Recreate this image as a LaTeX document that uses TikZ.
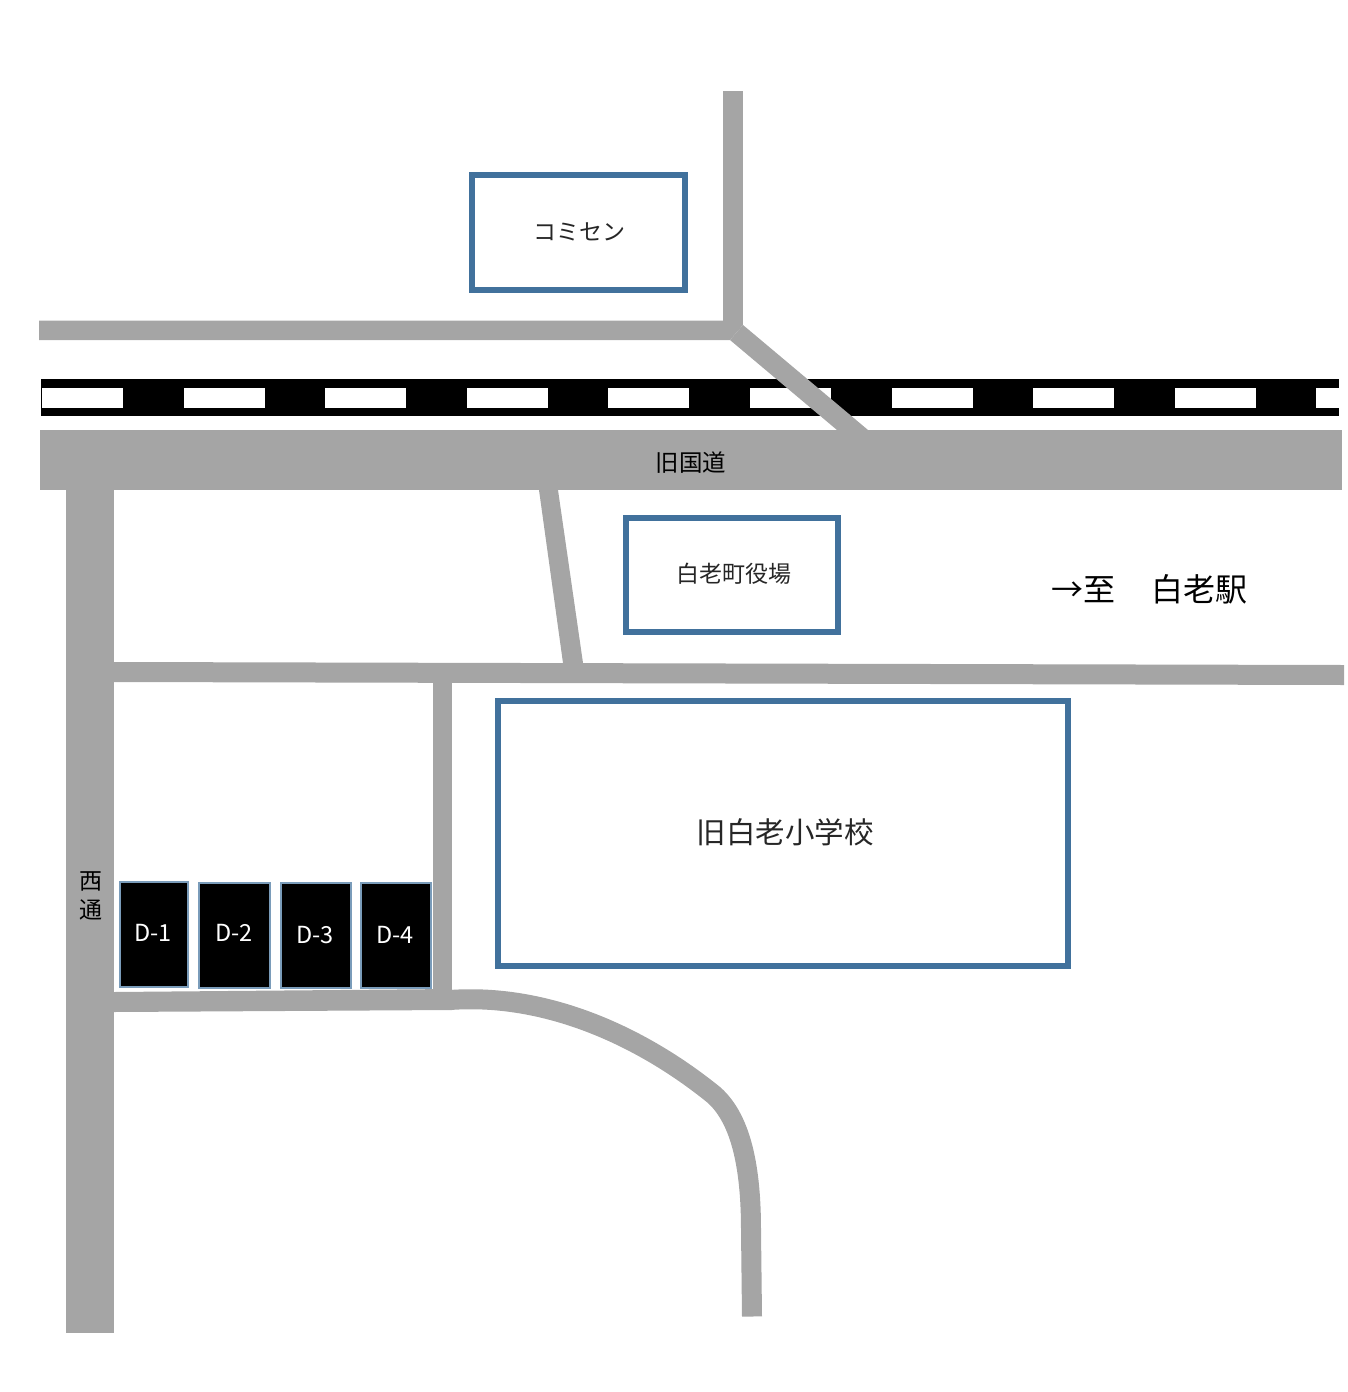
\documentclass[tikz,border=0pt]{standalone}
\usepackage{fontspec}
\setmainfont{Noto Sans CJK JP}
\definecolor{roadgray}{HTML}{A5A5A5}
\definecolor{framblue}{HTML}{41719C}
\begin{document}
\begin{tikzpicture}[x=1pt, y=-1pt,
          road/.style = {fill=roadgray},
          curved/.style = {draw=roadgray, line width=20pt},
          bldg/.style = {draw=framblue, line width=5.5pt, outer sep=0pt, anchor=north west, inner sep=0pt},
          lot/.style = {draw=framblue!70, line width=1.5pt, outer sep=0pt, fill=black, text=white, font=\fontsize{23.5}{23.5}\selectfont, anchor=north west, inner sep=0pt},
          bldgtext/.style = {text=black!85, inner sep=0pt}]
        \useasboundingbox (0,0) rectangle (1347,1392);
        % roads
        \fill[road] (723,91) rectangle (743,325);
        \fill[road] (39,320.5) -- (723,320.5) -- (743,325) -- (730,340) -- (39,340) -- cycle;
        % railway
        \fill (41,379) rectangle (1339,416);
        \foreach \n in {42, 184, 325, 467, 608, 750, 892, 1033, 1175}
                 {
                   \fill[white] (\n,388) rectangle ++(81,20);
                 }
        \fill[white] (1316,388) rectangle (1339,408);
        \fill[road] (730,340) -- (743,325) -- (868,430) -- (837,430) -- cycle;
        \fill[road] (40,430) rectangle (1342,490);
        \fill[road] (66,490) rectangle (114,1333);
        \fill[road] (539,490) -- (558,490) -- (583,663) -- (563,663) -- cycle;
        \fill[road] (114,662) -- (1344,665) -- (1344,685) -- (114,682) -- cycle;
        \fill[road] (433,682) rectangle (452,992);
        \fill[road] (114,992) -- (452,989) -- (452,1010) -- (114,1012) -- cycle;
        \draw[curved] (450,1000) .. controls (545,993) and (640,1035) .. (714,1095)
                      .. controls (742,1120) and (751,1170) .. (751,1230) -- (752,1316.5);
        % buildings
        \node[bldg, minimum width=213pt, minimum height=115pt] (komisen) at (472,175) {};
        \node[bldg, minimum width=212pt, minimum height=114pt] (yakuba) at (626,518) {};
        \node[bldg, minimum width=570pt, minimum height=265pt] (school) at (498,701) {};
        \node[bldgtext, font=\fontsize{23}{23}\selectfont] (komisentext) at (579.5,232) {コミセン};
        \node[bldgtext, font=\fontsize{23}{23}\selectfont] (yakubatext) at (734,574) {白老町役場};
        \node[bldgtext, font=\fontsize{29.5}{29.5}\selectfont] (schooltext) at (785,832) {旧白老小学校};
        % parking
        \node[lot, minimum width=68pt, minimum height=105pt] (d1) at (120,882) {};
        \node[lot, minimum width=71pt, minimum height=105pt] (d2) at (199,883) {};
        \node[lot, minimum width=70pt, minimum height=105pt] (d3) at (281,883) {};
        \node[lot, minimum width=70pt, minimum height=105pt] (d4) at (361,883) {};
        \node[lot, anchor=center, draw=none, fill=none] (d1text) at (153,933) {D-1};
        \node[lot, anchor=center, draw=none, fill=none] (d2text) at (234,933) {D-2};
        \node[lot, anchor=center, draw=none, fill=none] (d3text) at (315,935) {D-3};
        \node[lot, anchor=center, draw=none, fill=none] (d4text) at (395,935) {D-4};
        % labels
        \node[font=\fontsize{23.5}{23.5}\selectfont] (kokudo) at (691,463) {旧国道};
        \node[font=\fontsize{23}{29}\selectfont, align=center] (nishi) at (91,896) {西\\通};
        \node[font=\fontsize{32}{32}\selectfont, anchor=west, inner sep=0pt] (eki) at (1051,589) {→至\hspace{1.12em}白老駅};
      \end{tikzpicture}
\end{document}
